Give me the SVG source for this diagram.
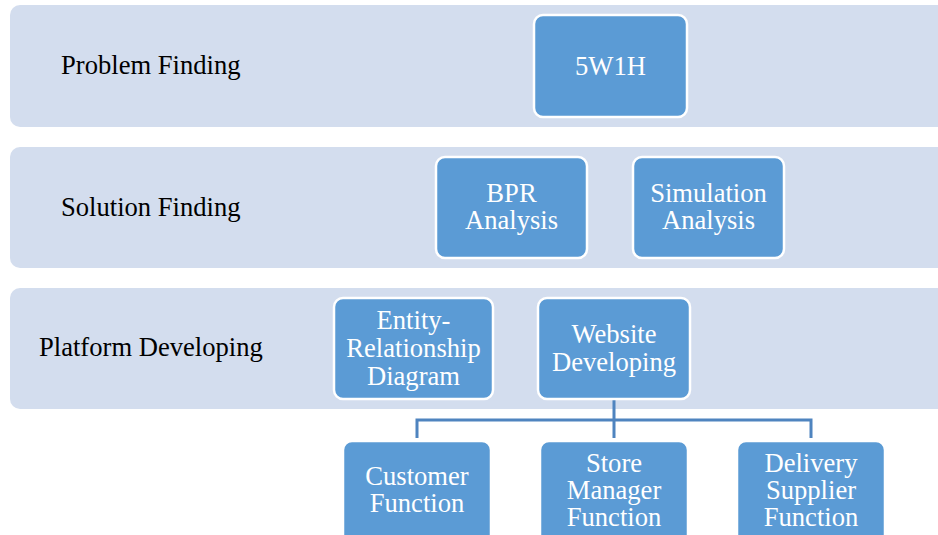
<svg xmlns="http://www.w3.org/2000/svg" width="938" height="535" viewBox="0 0 938 535">
  <style>
    .band { fill: #d3ddee; }
    .box { fill: #5b9bd5; stroke: #ffffff; stroke-width: 2.5; }
    .label { font-family: "Liberation Serif", "Times New Roman", serif; font-size: 26.6px; fill: #000000; }
    .txt { font-family: "Liberation Serif", "Times New Roman", serif; font-size: 26.6px; fill: #ffffff; text-anchor: middle; }
    .link { fill: none; stroke: #4f84bf; stroke-width: 3; }
  </style>

  <!-- Stage bands -->
  <g id="stage-problem">
    <rect class="band" x="10" y="5" width="940" height="122" rx="10"/>
    <text class="label" x="61" y="74">Problem Finding</text>
  </g>
  <g id="stage-solution">
    <rect class="band" x="10" y="147" width="940" height="121" rx="10"/>
    <text class="label" x="61" y="216">Solution Finding</text>
  </g>
  <g id="stage-platform">
    <rect class="band" x="10" y="288" width="940" height="121" rx="10"/>
    <text class="label" x="39" y="356">Platform Developing</text>
  </g>

  <!-- Connectors -->
  <g id="connectors">
    <path class="link" d="M614 399 V438 M417 438 V420 H811 V438"/>
  </g>

  <!-- Nodes -->
  <g id="node-5w1h">
    <rect class="box" x="534" y="15" width="153" height="102" rx="9"/>
    <text class="txt" x="610.5" y="75">5W1H</text>
  </g>
  <g id="node-bpr">
    <rect class="box" x="436" y="157" width="151" height="101" rx="9"/>
    <text class="txt" x="511.5" y="202">BPR</text>
    <text class="txt" x="511.5" y="229">Analysis</text>
  </g>
  <g id="node-simulation">
    <rect class="box" x="633" y="157" width="151" height="101" rx="9"/>
    <text class="txt" x="708.5" y="202">Simulation</text>
    <text class="txt" x="708.5" y="229">Analysis</text>
  </g>
  <g id="node-erd">
    <rect class="box" x="334" y="298" width="159" height="101" rx="9"/>
    <text class="txt" x="413.5" y="329">Entity-</text>
    <text class="txt" x="413.5" y="357">Relationship</text>
    <text class="txt" x="413.5" y="385">Diagram</text>
  </g>
  <g id="node-website">
    <rect class="box" x="538" y="298" width="152" height="101" rx="9"/>
    <text class="txt" x="614" y="343">Website</text>
    <text class="txt" x="614" y="371">Developing</text>
  </g>
  <g id="node-customer">
    <rect class="box" x="343" y="441" width="148" height="110" rx="9"/>
    <text class="txt" x="417" y="485">Customer</text>
    <text class="txt" x="417" y="512">Function</text>
  </g>
  <g id="node-store">
    <rect class="box" x="540" y="441" width="148" height="110" rx="9"/>
    <text class="txt" x="614" y="472">Store</text>
    <text class="txt" x="614" y="499">Manager</text>
    <text class="txt" x="614" y="526">Function</text>
  </g>
  <g id="node-delivery">
    <rect class="box" x="737" y="441" width="148" height="110" rx="9"/>
    <text class="txt" x="811" y="472">Delivery</text>
    <text class="txt" x="811" y="499">Supplier</text>
    <text class="txt" x="811" y="526">Function</text>
  </g>
</svg>
